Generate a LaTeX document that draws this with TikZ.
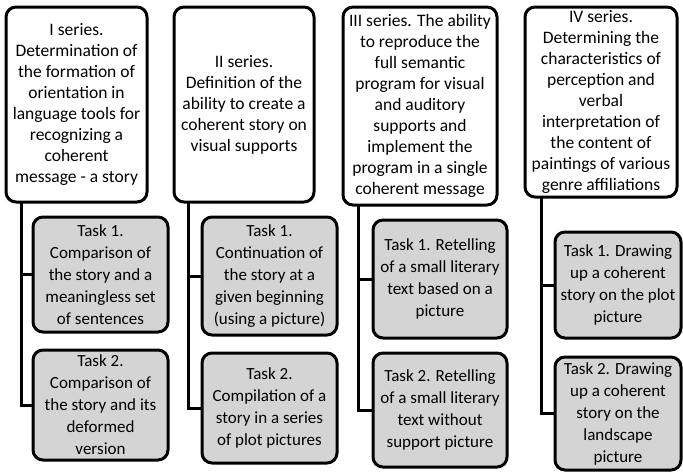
\documentclass[tikz,border=0pt]{standalone}
\usepackage{fontspec}
\setmainfont{Carlito}
\begin{document}
\begin{tikzpicture}[x=1pt,y=-1pt,
  hdr/.style={draw=black,line width=3pt,rounded corners=10pt,fill=white,align=center,inner sep=0pt,
    font=\fontsize{17.5}{21}\selectfont},
  task/.style={draw=black,line width=3pt,rounded corners=10pt,fill=black!17,align=center,inner sep=0pt,
    font=\fontsize{17}{22}\selectfont},
  conn/.style={line width=3pt,line cap=rect}]
\useasboundingbox (0,0) rectangle (683,472);
% headers
\node[hdr,minimum width=141pt,minimum height=195pt] (h1) at (76.5,104.5)
  {I series.\\Determination of\\the formation of\\orientation in\\language tools for\\recognizing a\\coherent\\message - a story};
\node[hdr,minimum width=140pt,minimum height=195pt] (h2) at (244,104.5)
  {II series.\\Definition of the\\ability to create a\\coherent story on\\visual supports};
\node[hdr,minimum width=154pt,minimum height=198pt] (h3) at (420,106)
  {III series. The ability\\to reproduce the\\full semantic\\program for visual\\and auditory\\supports and\\implement the\\program in a single\\coherent message};
\node[hdr,minimum width=152pt,minimum height=190pt] (h4) at (601,102)
  {IV series.\\Determining the\\characteristics of\\perception and\\verbal\\interpretation of\\the content of\\paintings of various\\genre affiliations};
% tasks
\node[task,minimum width=135pt,minimum height=115pt] (a1) at (100.5,274.5)
  {Task 1.\\Comparison of\\the story and a\\meaningless set\\of sentences};
\node[task,minimum width=135pt,minimum height=110pt] (a2) at (100.5,405)
  {Task 2.\\Comparison of\\the story and its\\deformed\\version};
\node[task,minimum width=135pt,minimum height=118pt] (b1) at (269.5,276)
  {Task 1.\\Continuation of\\the story at a\\given beginning\\(using a picture)};
\node[task,minimum width=135pt,minimum height=110pt] (b2) at (269.5,408)
  {Task 2.\\Compilation of a\\story in a series\\of plot pictures};
\node[task,minimum width=134pt,minimum height=118pt] (c1) at (440,279)
  {Task 1. Retelling\\of a small literary\\text based on a\\picture};
\node[task,minimum width=134pt,minimum height=114pt] (c2) at (440,410)
  {Task 2. Retelling\\of a small literary\\text without\\support picture};
\node[task,minimum width=126pt,minimum height=106pt] (d1) at (618,285)
  {Task 1. Drawing\\up a coherent\\story on the plot\\picture};
\node[task,minimum width=126pt,minimum height=113pt] (d2) at (618,413.5)
  {Task 2. Drawing\\up a coherent\\story on the\\landscape\\picture};
% connectors
\coordinate (p1) at ([xshift=17pt]h1.south west);
\coordinate (p2) at ([xshift=16pt]h2.south west);
\coordinate (p3) at ([xshift=17pt]h3.south west);
\coordinate (p4) at ([xshift=18pt]h4.south west);
\draw[conn] (p1) |- (a1.west);
\draw[conn] (p1) |- (a2.west);
\draw[conn] (p2) |- (b1.west);
\draw[conn] (p2) |- (b2.west);
\draw[conn] (p3) |- (c1.west);
\draw[conn] (p3) |- (c2.west);
\draw[conn] (p4) |- (d1.west);
\draw[conn] (p4) |- (d2.west);
\end{tikzpicture}
\end{document}
